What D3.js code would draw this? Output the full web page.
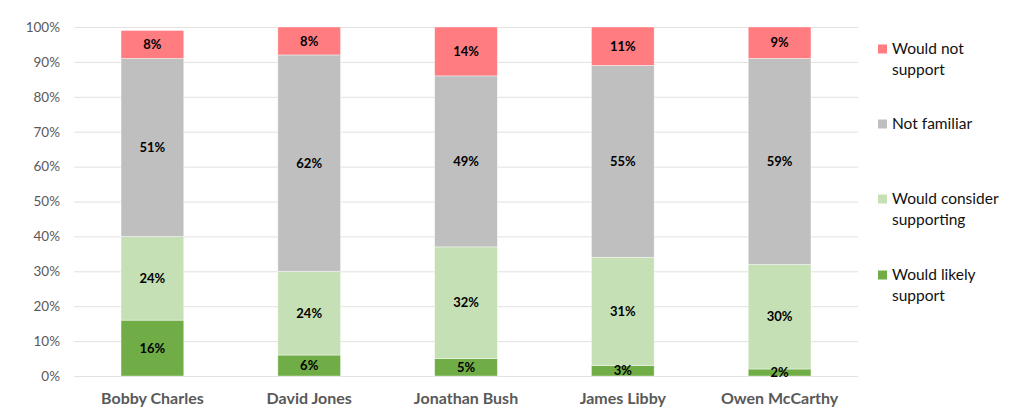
<!DOCTYPE html>
<html>
<head>
<meta charset="utf-8">
<script src="https://cdn.jsdelivr.net/npm/d3@7"></script>
<style>
  html, body { margin: 0; padding: 0; background: #fff; }
  svg { display: block; font-family: Lato, "Open Sans", sans-serif; }
</style>
</head>
<body>
<svg id="chart" width="1024" height="410"></svg>
<script>
const categories = ["Bobby Charles", "David Jones", "Jonathan Bush", "James Libby", "Owen McCarthy"];
const seriesNames = ["Would likely support", "Would consider supporting", "Not familiar", "Would not support"];
const wouldLikely = [16, 6, 5, 3, 2];
const wouldConsider = [24, 24, 32, 31, 30];
const notFamiliar = [51, 62, 49, 55, 59];
const wouldNot = [8, 8, 14, 11, 9];
const yTicks = [0, 10, 20, 30, 40, 50, 60, 70, 80, 90, 100];
const colors = ["#70AD47", "#C5E0B4", "#BFBFBF", "#FF7C80"];
const legendLines = [["Would not", "support"], ["Not familiar"], ["Would consider", "supporting"], ["Would likely", "support"]];

const svg = d3.select("#chart");
const mLeft = 74, mRight = 858, mTop = 27, mBottom = 376;

const x = d3.scaleBand().domain(categories).range([mLeft, mRight]).paddingInner(0.6).paddingOuter(0.3);
const y = d3.scaleLinear().domain([0, 100]).range([mBottom, mTop]);

// gridlines
svg.append("g").selectAll("line").data(yTicks).join("line")
  .attr("x1", mLeft).attr("x2", mRight)
  .attr("y1", d => y(d) + 0.5).attr("y2", d => y(d) + 0.5)
  .attr("stroke", "#E4E1DE").attr("stroke-width", 1);

// y axis
const yAxis = d3.axisLeft(y).tickValues(yTicks).tickFormat(d => d + "%").tickSize(0).tickPadding(0);
const ga = svg.append("g").attr("transform", `translate(${mLeft - 14},0)`).call(yAxis);
ga.select(".domain").remove();
ga.selectAll("text").attr("fill", "#595959").attr("font-size", 13.5).attr("font-family", "Lato, 'Open Sans', sans-serif");

// stack
const rows = categories.map((c, i) => ({
  cat: c,
  s0: wouldLikely[i], s1: wouldConsider[i], s2: notFamiliar[i], s3: wouldNot[i]
}));
const stack = d3.stack().keys(["s0", "s1", "s2", "s3"]);
const stacked = stack(rows);

const layers = svg.append("g").selectAll("g").data(stacked).join("g")
  .attr("fill", (d, i) => colors[i]);
layers.selectAll("rect").data(d => d).join("rect")
  .attr("x", d => x(d.data.cat))
  .attr("width", x.bandwidth())
  .attr("y", d => y(d[1]))
  .attr("height", d => y(d[0]) - y(d[1]))
  .attr("stroke", "#ffffff").attr("stroke-opacity", 0.5).attr("stroke-width", 0.8);

// labels
const lbl = svg.append("g");
stacked.forEach((layer) => {
  lbl.selectAll(null).data(layer).join("text")
    .attr("x", d => x(d.data.cat) + x.bandwidth() / 2)
    .attr("y", d => (y(d[0]) + y(d[1])) / 2)
    .attr("dy", "0.35em")
    .attr("text-anchor", "middle")
    .attr("font-size", 13).attr("font-weight", "bold").attr("fill", "#000")
    .text(d => (d[1] - d[0]) + "%");
});

// x axis labels
const xAxis = d3.axisBottom(x).tickSize(0).tickPadding(0);
const gx = svg.append("g").attr("transform", `translate(0,${mBottom + 22})`).call(xAxis);
gx.select(".domain").remove();
gx.selectAll("text").attr("fill", "#595959").attr("font-size", 16).attr("font-weight", "bold")
  .attr("dy", "0.35em").attr("font-family", "Lato, 'Open Sans', sans-serif");

// legend
const legendY = [49, 124, 199, 275];
const legendColors = [colors[3], colors[2], colors[1], colors[0]];
const lg = svg.append("g");
legendLines.forEach((lines, i) => {
  lg.append("rect").attr("x", 878).attr("y", legendY[i] - 4.5).attr("width", 9).attr("height", 9)
    .attr("fill", legendColors[i]);
  lines.forEach((t, j) => {
    lg.append("text").attr("x", 892).attr("y", legendY[i] + j * 21).attr("dy", "0.35em")
      .attr("font-size", 15.5).attr("fill", "#111").text(t);
  });
});
</script>
</body>
</html>
